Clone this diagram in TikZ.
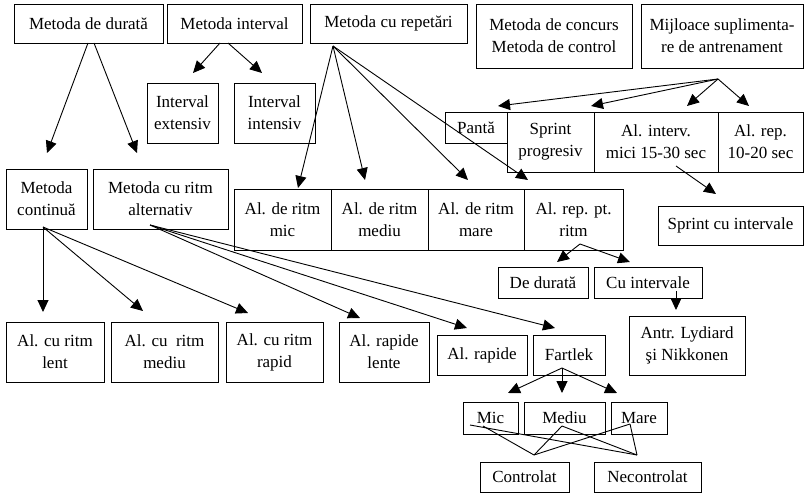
\documentclass[tikz,border=0pt]{standalone}
\usepackage{fontspec}
\setmainfont{Liberation Serif}
\usetikzlibrary{arrows.meta}
\tikzset{
  box/.style={draw, line width=0.9pt, inner sep=0pt, align=center,
    font=\fontsize{17}{22}\selectfont},
  arr/.style={line width=0.9pt, -{Triangle[length=12pt,width=11pt]}},
  ln/.style={line width=0.9pt}
}
% \bx{name}{x1}{y1}{x2}{y2}{text}, pixel coordinates with y downward
\newcommand\bx[6]{\node[box, minimum width={(#4-#2)*1pt}, minimum height={(#5-#3)*1pt}]
  (#1) at ({(#2+#4)/2},{493-(#3+#5)/2}) {#6};}
\newcommand\pt[3]{\coordinate (#1) at (#2,{493-#3});}
\begin{document}
\begin{tikzpicture}[x=1pt,y=1pt]
\useasboundingbox (0,0) rectangle (805,493);
% top row
\bx{dur}{14}{4}{163}{43}{Metoda de durată}
\bx{int}{167}{4}{302}{43}{Metoda interval}
\bx{rep}{310}{4}{467}{43}{Metoda cu repetări}
\bx{conc}{476}{4}{632}{68}{Metoda de concurs\\Metoda de control}
\bx{mij}{641}{4}{803}{68}{Mijloace suplimenta-\\re de antrenament}
% interval children
\bx{iext}{147}{83}{218}{143}{Interval\\extensiv}
\bx{iint}{234}{83}{315}{143}{Interval\\intensiv}
% mijloace row
\bx{panta}{445}{112}{507}{143}{Pantă}
\bx{sprog}{507}{112}{594}{172}{Sprint\\progresiv}
\bx{aint}{594}{112}{718}{172}{Al. interv.\\mici 15-30 sec}
\bx{arep}{718}{112}{803}{172}{Al. rep.\\10-20 sec}
\bx{sci}{658}{206}{803}{245}{Sprint cu intervale}
% durata children
\bx{cont}{6}{169}{87}{229}{Metoda\\continuă}
\bx{alt}{93}{169}{228}{229}{Metoda cu ritm\\alternativ}
% repetari row
\bx{rmic}{234}{189}{331}{250}{Al. de ritm\\mic}
\bx{rmed}{331}{189}{428}{250}{Al. de ritm\\mediu}
\bx{rmar}{428}{189}{524}{250}{Al. de ritm\\mare}
\bx{rpt}{524}{189}{623}{250}{Al. rep. pt.\\ritm}
\bx{dd}{498}{267}{588}{298}{De durată}
\bx{ci}{594}{267}{702}{298}{Cu intervale}
\bx{lyd}{629}{316}{745}{375}{Antr. Lydiard\\şi Nikkonen}
% bottom row
\bx{lent}{6}{322}{104}{382}{Al. cu ritm\\lent}
\bx{cmed}{111}{322}{218}{382}{Al. cu~ ritm\\mediu}
\bx{crap}{226}{322}{323}{382}{Al. cu ritm\\rapid}
\bx{rl}{339}{322}{429}{382}{Al. rapide\\lente}
\bx{ar}{437}{335}{527}{375}{Al. rapide}
\bx{fart}{533}{335}{605}{375}{Fartlek}
\bx{mic}{463}{402}{518}{434}{Mic}
\bx{med}{524}{402}{605}{434}{Mediu}
\bx{mare}{611}{402}{667}{434}{Mare}
\bx{ctl}{480}{462}{569}{492}{Controlat}
\bx{nctl}{594}{462}{701}{492}{Necontrolat}
% connector points
\pt{durA}{88}{43}\pt{durB}{94}{43}
\pt{tCont}{47}{153}\pt{tAlt}{137}{153}
\pt{intA}{220}{43}\pt{intB}{228}{43}
\pt{tExt}{193}{73}\pt{tInt}{262}{73}
\pt{repA}{333}{46}
\pt{tRmic}{298}{188}\pt{tRmed}{365}{180}\pt{tRmar}{468}{180}\pt{tRpt}{528}{180}
\pt{mijA}{718}{79}
\pt{tPanta}{498}{106}\pt{tSprog}{591}{106}\pt{tAint}{687}{106}\pt{tArep}{749}{106}
\pt{aintA}{676}{166}\pt{tSci}{716}{194}
\pt{rptA}{580}{244}\pt{tDd}{557}{262}\pt{tCi}{630}{262}
\pt{ciA}{676}{291}\pt{tLyd}{676}{310}
\pt{contA}{43}{227}
\pt{tLent}{43}{312}\pt{tCmed}{143}{311}\pt{tCrap}{248}{313}
\pt{altA}{150}{225}
\pt{tRl}{360}{318}\pt{tAr}{467}{328}\pt{tFart}{555}{328}
\pt{fartA}{562}{368}
\pt{tMic}{508}{393}\pt{tMed}{562}{393}\pt{tMare}{617}{393}
\pt{micA}{470}{425}\pt{micB}{483}{426}\pt{medA}{562}{426}\pt{mareA}{630}{424}
\pt{ctlA}{534}{455}\pt{nctlA}{637}{455}
% arrows
\draw[arr] (durA) -- (tCont);
\draw[arr] (durB) -- (tAlt);
\draw[arr] (intA) -- (tExt);
\draw[arr] (intB) -- (tInt);
\foreach \t in {tRmic,tRmed,tRmar,tRpt} \draw[arr] (repA) -- (\t);
\foreach \t in {tPanta,tSprog,tAint,tArep} \draw[arr] (mijA) -- (\t);
\draw[arr] (aintA) -- (tSci);
\draw[arr] (rptA) -- (tDd);
\draw[arr] (rptA) -- (tCi);
\draw[arr] (ciA) -- (tLyd);
\foreach \t in {tLent,tCmed,tCrap} \draw[arr] (contA) -- (\t);
\foreach \t in {tRl,tAr,tFart} \draw[arr] (altA) -- (\t);
\foreach \t in {tMic,tMed,tMare} \draw[arr] (fartA) -- (\t);
% plain lines
\draw[ln] (micA) -- (nctlA);
\draw[ln] (micB) -- (ctlA);
\draw[ln] (medA) -- (ctlA);
\draw[ln] (medA) -- (nctlA);
\draw[ln] (mareA) -- (ctlA);
\draw[ln] (mareA) -- (nctlA);
\end{tikzpicture}
\end{document}
